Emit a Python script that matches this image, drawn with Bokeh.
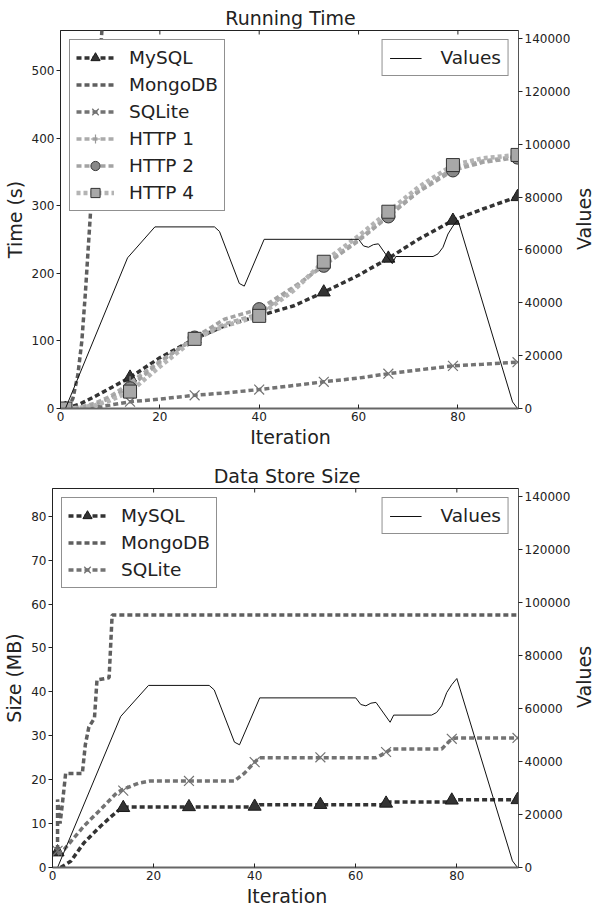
import math
from bokeh.plotting import figure
from bokeh.models import (Range1d, LinearAxis, Legend, LegendItem, FixedTicker,
                          NumeralTickFormatter, ColumnDataSource, Div)
from bokeh.layouts import column, row
from bokeh.embed import file_html
from bokeh.resources import INLINE

# ---------------- data ----------------
ITER_MARK = [1, 14, 27, 40, 53, 66, 79, 92]

# "Values" series (right axis), shared by both panels
values_x = [1, 13.5, 19, 31, 32, 36, 37, 41, 60, 61, 62, 63, 64, 66.8, 67.5, 75, 76, 77, 78, 79, 80, 91, 92]
values_y = [0, 57000, 68700, 68700, 67000, 47300, 46300, 64000, 64000, 61500, 61000, 62000, 62300,
            54800, 57500, 57500, 58500, 61000, 66000, 69000, 71300, 2500, 0]

# Running time (s)
time_x = [1, 4, 7, 10, 14, 20, 27, 33, 40, 47, 53, 60, 66, 72, 79, 85, 92]
mysql_time = [0, 7, 18, 30, 46, 75, 103, 122, 137, 152, 172, 197, 222, 250, 278, 295, 313]
sqlite_time = [0, 0.5, 2, 5, 10, 14, 19.5, 23, 28, 34, 39.5, 45, 51.5, 57, 63, 65.5, 68.5]
http1_time = [0, 2, 8, 18, 38, 70, 103, 125, 140, 178, 213, 250, 286, 322, 355, 366, 373]
http2_time = [0, 1, 6, 15, 32, 68, 105, 132, 147, 180, 211, 248, 284, 320, 352, 364, 371]
http4_time = [0, 1, 5, 12, 25, 62, 103, 122, 137, 175, 217, 255, 291, 327, 360, 370, 375]
mongo_time_x = [1.5, 2.5, 3.5, 4.3, 5, 6, 7, 8.3, 9]
mongo_time = [0, 15, 50, 100, 170, 285, 410, 555, 640]

mysql_time_m = [0, 46, 103, 137, 172, 222, 278, 313]
sqlite_time_m = [0, 10, 19.5, 28, 39.5, 51.5, 63, 68.5]
http1_time_m = [0, 38, 103, 140, 213, 286, 355, 373]
http2_time_m = [0, 30, 105, 147, 211, 284, 352, 371]
http4_time_m = [0, 25, 103, 137, 217, 291, 360, 375]

# Data store size (MB)
mysql_size_x = [1.6, 3.6, 6.2, 9.5, 11.7, 13.5, 15, 40, 41, 65, 66, 78, 79, 92]
mysql_size = [0, 1.4, 5.6, 9.4, 11.7, 13.4, 13.8, 13.8, 14.3, 14.3, 14.9, 14.9, 15.4, 15.4]
sqlite_size_x = [1, 2.3, 6.2, 9.5, 12.7, 14, 17, 19.3, 36, 38, 40, 41, 64, 66, 67, 77, 79, 80, 92]
sqlite_size = [3, 4.1, 9.4, 13.2, 17, 17.8, 19.2, 19.7, 19.7, 21.5, 24, 25, 25, 26.2, 27, 27, 29.3, 29.5, 29.5]
mongo_size_x = [1, 1, 1.5, 2, 2.6, 5.9, 6.5, 7.2, 8.3, 8.8, 11.2, 11.8, 92]
mongo_size = [4, 15.5, 10, 15, 21.4, 21.4, 28, 32, 34, 42.7, 43.2, 57.5, 57.5]

mysql_size_m = [3.5, 13.6, 13.8, 13.9, 14.3, 14.6, 15.3, 15.4]
sqlite_size_m = [3.8, 17.5, 19.7, 24, 25.1, 26.3, 29.3, 29.5]

time_ticks = [0, 100, 200, 300, 400, 500]
size_ticks = [0, 10, 20, 30, 40, 50, 60, 70, 80]
x_ticks = [0, 20, 40, 60, 80]
value_ticks = [0, 20000, 40000, 60000, 80000, 100000, 120000, 140000]

# ---------------- styling ----------------
FONT = "DejaVu Sans"
TXT = "#222222"
C_MYSQL = "#333333"
C_MONGO = "#5f5f5f"
C_SQLITE = "#737373"
C_HTTP1 = "#ababab"
C_HTTP2 = "#a3a3a3"
C_HTTP4 = "#b4b4b4"
DASH = "5 3"
X_END = 92.2
V_END = 143000
FIG_W = 573
VAL_W = 21
TOTAL_W = FIG_W + VAL_W


def style_axis(ax, tin, tout):
    ax.major_label_text_font = FONT
    ax.major_label_text_font_size = "12px"
    ax.major_label_text_color = TXT
    ax.axis_label_text_font = FONT
    ax.axis_label_text_font_size = "19px"
    ax.axis_label_text_font_style = "normal"
    ax.axis_label_text_color = TXT
    ax.minor_tick_line_color = None
    ax.major_tick_in = tin
    ax.major_tick_out = tout
    ax.major_tick_line_color = TXT
    ax.major_label_standoff = 2
    ax.axis_label_standoff = 3
    ax.axis_line_color = TXT


def hdiv(text, height, pad_top, line_h, left, width):
    html = ('<div style="margin-left:%dpx;width:%dpx;padding-top:%dpx;text-align:center;'
            'font-family:\'DejaVu Sans\';font-size:19px;line-height:%dpx;color:%s;'
            'white-space:nowrap;">%s</div>' % (left, width, pad_top, line_h, TXT, text))
    return Div(text=html, width=TOTAL_W, height=height, margin=(0, 0, 0, 0))


def vdiv(text, height, center_y):
    html = ('<div style="position:relative;width:%dpx;height:%dpx;">'
            '<div style="position:absolute;left:50%%;top:%dpx;'
            'transform:translate(-50%%,-50%%) rotate(-90deg);white-space:nowrap;'
            'font-family:\'DejaVu Sans\';font-size:19px;line-height:16px;color:%s;">%s</div></div>'
            % (VAL_W, height, center_y, TXT, text))
    return Div(text=html, width=VAL_W, height=height, margin=(0, 0, 0, 0))


def base_fig(height, top, bottom, left, y_end, y_ticks, ylabel, frame_h):
    p = figure(width=FIG_W, height=height, x_range=Range1d(0, X_END), y_range=Range1d(0, y_end),
               output_backend="svg", toolbar_location=None,
               min_border_left=left, min_border_right=52, min_border_top=top,
               min_border_bottom=bottom, y_axis_label=ylabel)
    p.title.visible = False
    p.grid.visible = False
    p.outline_line_color = TXT
    p.outline_line_width = 1
    p.extra_y_ranges = {"vals": Range1d(0, V_END)}

    p.xaxis.ticker = FixedTicker(ticks=x_ticks)
    p.yaxis.ticker = FixedTicker(ticks=y_ticks)
    style_axis(p.xaxis[0], 4, 0)
    p.xaxis[0].major_label_standoff = 3
    style_axis(p.yaxis[0], 0, 4)
    p.xaxis[0].axis_line_color = "#666666"
    p.xaxis[0].axis_line_width = 2

    ax_r = LinearAxis(y_range_name="vals",
                      ticker=FixedTicker(ticks=value_ticks),
                      formatter=NumeralTickFormatter(format="0"))
    style_axis(ax_r, 0, 4)
    ax_r.axis_line_color = "#555555"
    p.add_layout(ax_r, "right")

    # inward ticks on the top spine
    tick_len = 4.0 * y_end / frame_h
    p.segment(x0=x_ticks, y0=[y_end] * len(x_ticks), x1=x_ticks,
              y1=[y_end - tick_len] * len(x_ticks), line_color=TXT, line_width=1)
    return p


def series(p, x, y, color, width, xm=None, ym=None, marker=None, msize=13,
           mfill=None, mline=None, mwidth=1.0, dash=DASH):
    r_line = p.line(x, y, line_color=color, line_width=width, line_dash=dash,
                    line_cap="butt")
    rends = [r_line]
    if marker is not None:
        src = ColumnDataSource(dict(x=xm if xm is not None else [],
                                    y=ym if ym is not None else []))
        r_m = p.scatter("x", "y", source=src, marker=marker, size=msize,
                        fill_color=mfill, line_color=mline, line_width=mwidth)
        rends.append(r_m)
    return rends


def legends(p, items):
    leg = Legend(items=[LegendItem(label=l, renderers=r) for l, r in items],
                 location="top_left")
    leg.label_text_font = FONT
    leg.label_text_font_size = "18.5px"
    leg.label_text_color = TXT
    leg.glyph_width = 38
    leg.glyph_height = 23
    leg.spacing = 4
    leg.padding = 6
    leg.margin = 9
    leg.label_standoff = 15
    leg.border_line_color = TXT
    leg.border_line_width = 1
    leg.background_fill_alpha = 1.0
    p.add_layout(leg, "center")


def values_legend(p, r):
    leg = Legend(items=[LegendItem(label="Values", renderers=[r])], location="top_right")
    leg.label_text_font = FONT
    leg.label_text_font_size = "18.5px"
    leg.label_text_color = TXT
    leg.glyph_width = 32
    leg.glyph_height = 18
    leg.padding = 7
    leg.margin = 9
    leg.label_standoff = 19
    leg.border_line_color = TXT
    leg.border_line_width = 1
    leg.background_fill_alpha = 1.0
    p.add_layout(leg, "center")


# ---------------- Running Time ----------------
p1 = base_fig(400, 2, 20, 40, 559, time_ticks, "Time (s)", 378)
r_my = series(p1, time_x, mysql_time, C_MYSQL, 3.5, ITER_MARK, mysql_time_m, "triangle", 13,
              C_MYSQL, "#1a1a1a")
r_mo = series(p1, mongo_time_x, mongo_time, C_MONGO, 3.5, [], [], "dash", 7,
              C_MONGO, "#aaaaaa", 1.5)
r_mo[1].glyph.angle = math.pi / 2
r_sq = series(p1, time_x, sqlite_time, C_SQLITE, 3.5, ITER_MARK, sqlite_time_m, "x", 14,
              None, C_SQLITE, 1.2)
r_h1 = series(p1, time_x, http1_time, C_HTTP1, 3.5, ITER_MARK, http1_time_m, "cross", 13,
              None, "#999999", 1.2)
r_h2 = series(p1, time_x, http2_time, C_HTTP2, 3.5, ITER_MARK, http2_time_m, "circle", 13,
              "#888888", "#333333", 1.0)
r_h4 = series(p1, time_x, http4_time, C_HTTP4, 4.5, ITER_MARK, http4_time_m, "square", 13,
              "#a8a8a8", "#333333", 1.0, dash="4 3")
v1 = p1.line(values_x, values_y, y_range_name="vals", line_color="#111111", line_width=1)
legends(p1, [("MySQL", r_my), ("MongoDB", r_mo), ("SQLite", r_sq),
             ("HTTP 1", r_h1), ("HTTP 2", r_h2), ("HTTP 4", r_h4)])
values_legend(p1, v1)

# ---------------- Data Store Size ----------------
p2 = base_fig(399, 2, 18, 40, 86.3, size_ticks, "Size (MB)", 379)
s_my = series(p2, mysql_size_x, mysql_size, C_MYSQL, 3.5, ITER_MARK, mysql_size_m, "triangle", 13,
              C_MYSQL, "#1a1a1a")
s_mo = series(p2, mongo_size_x, mongo_size, C_MONGO, 3.5, [], [], "dash", 7,
              C_MONGO, "#aaaaaa", 1.5)
s_mo[1].glyph.angle = math.pi / 2
s_sq = series(p2, sqlite_size_x, sqlite_size, C_SQLITE, 3.5, ITER_MARK, sqlite_size_m, "x", 14,
              None, C_SQLITE, 1.2)
v2 = p2.line(values_x, values_y, y_range_name="vals", line_color="#111111", line_width=1)
legends(p2, [("MySQL", s_my), ("MongoDB", s_mo), ("SQLite", s_sq)])
values_legend(p2, v2)

layout = column(
    hdiv("Running Time", 28, 8, 20, 60, 461),
    row(p1, vdiv("Values", 400, 191), spacing=0),
    hdiv("Iteration", 18, 0, 18, 60, 461),
    hdiv("Data Store Size", 40, 20, 20, 53, 468),
    row(p2, vdiv("Values", 399, 191), spacing=0),
    hdiv("Iteration", 22, 0, 22, 53, 468),
    spacing=0,
)
open("out.html", "w").write(file_html(layout, INLINE))
